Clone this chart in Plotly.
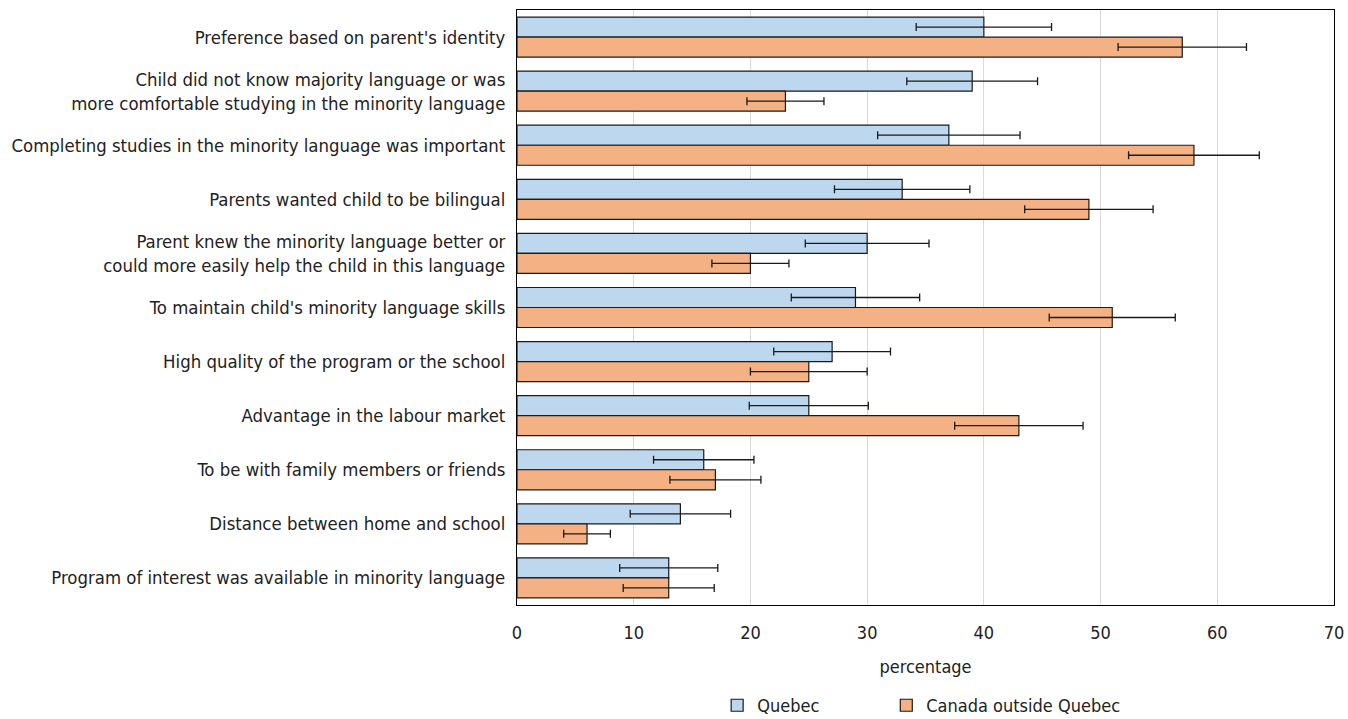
import plotly.graph_objects as go

categories = [
    "Preference based on parent's identity",
    "Child did not know majority language or was<br>more comfortable studying in the minority language",
    "Completing studies in the minority language was important",
    "Parents wanted child to be bilingual",
    "Parent knew the minority language better or<br>could more easily help the child in this language",
    "To maintain child's minority language skills",
    "High quality of the program or the school",
    "Advantage in the labour market",
    "To be with family members or friends",
    "Distance between home and school",
    "Program of interest was available in minority language",
]
quebec = [40, 39, 37, 33, 30, 29, 27, 25, 16, 14, 13]
quebec_err = [5.8, 5.6, 6.1, 5.8, 5.3, 5.5, 5.0, 5.1, 4.3, 4.3, 4.2]
canada = [57, 23, 58, 49, 20, 51, 25, 43, 17, 6, 13]
canada_err = [5.5, 3.3, 5.6, 5.5, 3.3, 5.4, 5.0, 5.5, 3.9, 2.0, 3.9]

font_family = "DejaVu Sans Condensed, Roboto, Arial, sans-serif"
text_color = "#222222"

fig = go.Figure()
fig.add_trace(go.Bar(
    name="Quebec", y=categories, x=quebec, orientation="h",
    marker=dict(color="#BDD7EE", line=dict(color="#1a1a1a", width=1.2)),
    error_x=dict(type="data", array=quebec_err, color="#1a1a1a", thickness=1.3, width=4),
    legend="legend",
))
fig.add_trace(go.Bar(
    name="Canada outside Quebec", y=categories, x=canada, orientation="h",
    marker=dict(color="#F4B183", line=dict(color="#1a1a1a", width=1.2)),
    error_x=dict(type="data", array=canada_err, color="#1a1a1a", thickness=1.3, width=4),
    legend="legend2",
))

leg_common = dict(orientation="h", yanchor="middle", y=-0.169, xanchor="left",
                  font=dict(size=18), itemwidth=30, bgcolor="rgba(0,0,0,0)")
fig.update_layout(
    width=1348, height=719,
    margin=dict(l=517, r=14, t=10, b=114, autoexpand=False),
    barmode="group", bargap=0.26, bargroupgap=0,
    plot_bgcolor="white", paper_bgcolor="white",
    font=dict(family=font_family, size=18, color=text_color),
    legend=dict(x=0.245, **leg_common),
    legend2=dict(x=0.452, **leg_common),
    showlegend=True,
)
fig.update_xaxes(
    range=[0, 70], dtick=10, showgrid=True, gridcolor="#d9d9d9", gridwidth=1,
    showline=True, linecolor="#000000", linewidth=1, mirror=True,
    ticks="", zeroline=False, ticklabelstandoff=11, automargin=False,
    title=dict(text="percentage", font=dict(size=18), standoff=18),
    tickfont=dict(size=18),
)
fig.update_yaxes(
    autorange="reversed", showline=True, linecolor="#000000", linewidth=1, mirror=True,
    ticks="", ticklabelstandoff=7, tickfont=dict(size=18.4), automargin=False,
)

fig.write_html("out.html", config={"displayModeBar": False},
               post_script="document.body.style.margin='0';document.body.style.padding='0';")
